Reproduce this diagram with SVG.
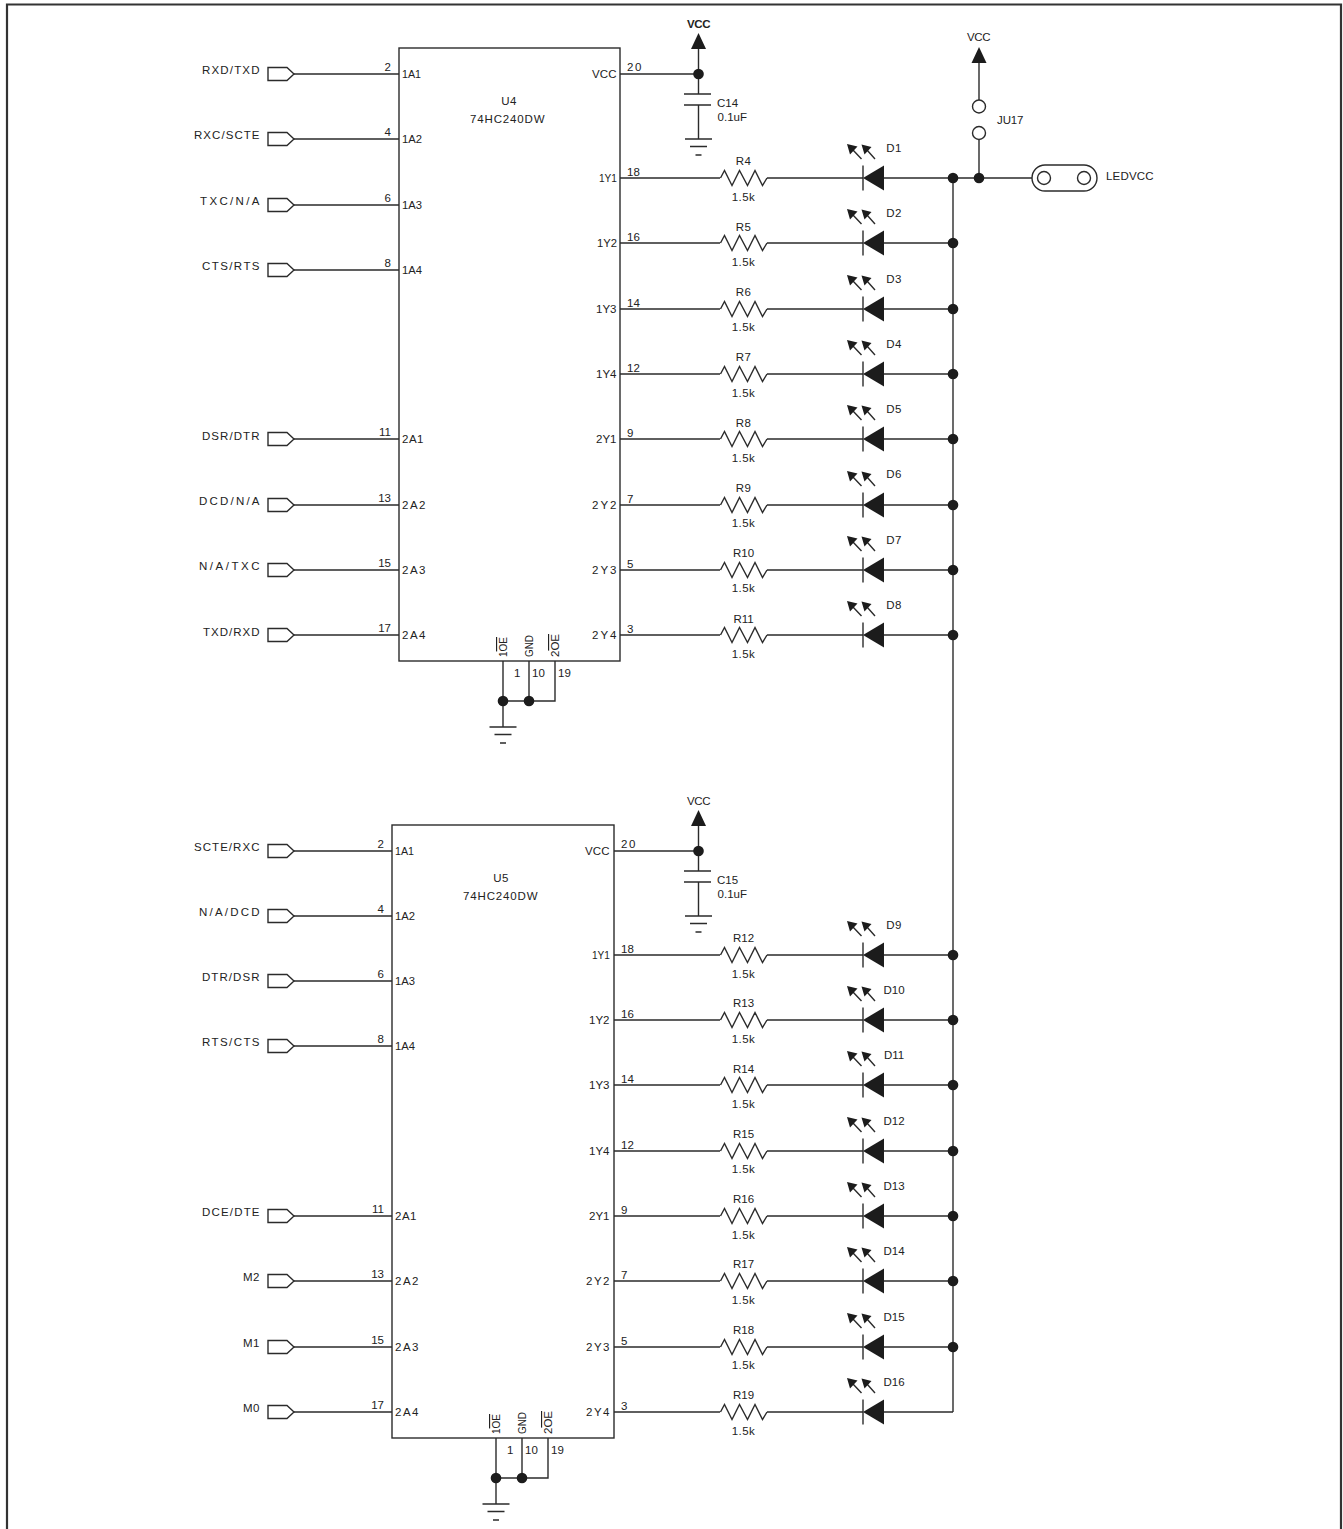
<svg xmlns="http://www.w3.org/2000/svg" width="1343" height="1529" viewBox="0 0 1343 1529">
<style>
text{font-family:"Liberation Sans",Arial,sans-serif;font-size:11.5px;letter-spacing:.5px;fill:#222}
.m{text-anchor:middle}.e{text-anchor:end}.n{letter-spacing:0}.c{letter-spacing:0}
.w{fill:none;stroke:#2b2b2b;stroke-width:1.4}
.b{fill:#1c1c1c;stroke:none}
.o{fill:#fff;stroke:#2b2b2b;stroke-width:1.4}
.f{fill:none;stroke:#2b2b2b;stroke-width:1.4}
</style>
<defs>
<path id="res" class="w" d="M0 0L4 -7.500L11.500 7.500L19 -7.500L27 7.500L34.500 -7.500L42 7.500L46.500 0"/>
<g id="led"><path class="w" d="M0 -12.500V12.500"/><path class="b" d="M0 0L21 -12.500V12.500Z"/><path class="w" d="M-1.500 -19L-10 -28M12 -19L4 -28"/><path class="b" d="M-16 -34L-5.500 -31.500L-13 -23.500ZM-1.500 -33.500L8.500 -31L1.500 -23.500Z"/></g>
<path id="port" class="f" d="M268 -6.500H287L294 0L287 6.500H268Z"/>
<circle id="dot" class="b" r="5.300"/>
<path id="gnd" class="w" d="M-13.500 0H13.500M-8.500 7.500H8.500M-3 16H3"/>
<path id="vcc" class="b" d="M0 -8L7.500 8H-7.500Z"/>
</defs>
<rect width="1343" height="1529" fill="#fff"/>
<path d="M7 1529V4.500H1341V1529" fill="none" stroke="#333" stroke-width="2.200"/>
<g id="connectors" class="w">
<path d="M294 74H399M294 139H399M294 205H399M294 270H399M294 439H399M294 505H399M294 570H399M294 635H399"/>
<path d="M620 178H720M767 178H863M884 178H1032M620 243H720M767 243H863M884 243H953M620 309H720M767 309H863M884 309H953M620 374H720M767 374H863M884 374H953M620 439H720M767 439H863M884 439H953M620 505H720M767 505H863M884 505H953M620 570H720M767 570H863M884 570H953M620 635H720M767 635H863M884 635H953"/>
<path d="M620 74H698.500M698.500 48V94M698.500 105V139M979 62V100M979 139.500V178"/>
<path d="M503 661V727M529 661V701M555 661V701H503"/>
<path d="M294 851H392M294 916H392M294 981H392M294 1046H392M294 1216H392M294 1281H392M294 1347H392M294 1412H392"/>
<path d="M614 955H720M767 955H863M884 955H953M614 1020H720M767 1020H863M884 1020H953M614 1085H720M767 1085H863M884 1085H953M614 1151H720M767 1151H863M884 1151H953M614 1216H720M767 1216H863M884 1216H953M614 1281H720M767 1281H863M884 1281H953M614 1347H720M767 1347H863M884 1347H953M614 1412H720M767 1412H863M884 1412H953"/>
<path d="M614 851H698.500M698.500 825V871M698.500 882V916"/>
<path d="M496 1438V1504M522 1438V1478M548 1438V1478H496"/>
<path d="M953 178V1412"/>
</g>
<g id="U4">
<rect class="f" x="399" y="48" width="221" height="613"/>
<text class="m" x="509" y="105">U4</text><text x="470" y="123" textLength="75">74HC240DW</text>
<text class="c" x="402" y="78" textLength="19" lengthAdjust="spacingAndGlyphs">1A1</text><text class="c" x="402" y="143" textLength="20" lengthAdjust="spacingAndGlyphs">1A2</text><text class="c" x="402" y="209" textLength="20" lengthAdjust="spacingAndGlyphs">1A3</text><text class="c" x="402" y="274" textLength="20" lengthAdjust="spacingAndGlyphs">1A4</text><text x="402" y="443" textLength="22">2A1</text><text x="402" y="509" textLength="24">2A2</text><text x="402" y="574" textLength="24">2A3</text><text x="402" y="639" textLength="24">2A4</text>
<text class="e n" x="391" y="71">2</text><text class="e n" x="391" y="136">4</text><text class="e n" x="391" y="202">6</text><text class="e n" x="391" y="267">8</text><text class="e n" x="391" y="436">11</text><text class="e n" x="391" y="502">13</text><text class="e n" x="391" y="567">15</text><text class="e n" x="391" y="632">17</text>
<text x="592" y="78" textLength="25">VCC</text><text class="c" x="599" y="182" textLength="18" lengthAdjust="spacingAndGlyphs">1Y1</text><text class="c" x="597" y="247" textLength="20" lengthAdjust="spacingAndGlyphs">1Y2</text><text x="596" y="313" textLength="21">1Y3</text><text x="596" y="378" textLength="21">1Y4</text><text x="596" y="443" textLength="21">2Y1</text><text x="592" y="509" textLength="25">2Y2</text><text x="592" y="574" textLength="25">2Y3</text><text x="592" y="639" textLength="25">2Y4</text>
<text x="627" y="71" textLength="15">20</text><text class="n" x="627" y="176">18</text><text class="n" x="627" y="241">16</text><text class="n" x="627" y="307">14</text><text class="n" x="627" y="372">12</text><text class="n" x="627" y="437">9</text><text class="n" x="627" y="503">7</text><text class="n" x="627" y="568">5</text><text class="n" x="627" y="633">3</text>
<text class="c" transform="translate(507 657) rotate(-90)" textLength="20" lengthAdjust="spacingAndGlyphs">1<tspan text-decoration="overline">OE</tspan></text>
<text class="c" transform="translate(533 657) rotate(-90)" textLength="22" lengthAdjust="spacingAndGlyphs">GND</text>
<text class="c" transform="translate(559 657) rotate(-90)" textLength="23" lengthAdjust="spacingAndGlyphs">2<tspan text-decoration="overline">OE</tspan></text>
<text class="n" x="514" y="677">1</text><text class="n" x="532" y="677">10</text><text class="n" x="558" y="677">19</text>
</g>
<g id="U5">
<rect class="f" x="392" y="825" width="222" height="613"/>
<text class="m" x="501" y="882">U5</text><text x="463" y="900" textLength="75">74HC240DW</text>
<text class="c" x="395" y="855" textLength="19" lengthAdjust="spacingAndGlyphs">1A1</text><text class="c" x="395" y="920" textLength="20" lengthAdjust="spacingAndGlyphs">1A2</text><text class="c" x="395" y="985" textLength="20" lengthAdjust="spacingAndGlyphs">1A3</text><text class="c" x="395" y="1050" textLength="20" lengthAdjust="spacingAndGlyphs">1A4</text><text x="395" y="1220" textLength="22">2A1</text><text x="395" y="1285" textLength="24">2A2</text><text x="395" y="1351" textLength="24">2A3</text><text x="395" y="1416" textLength="24">2A4</text>
<text class="e n" x="384" y="848">2</text><text class="e n" x="384" y="913">4</text><text class="e n" x="384" y="978">6</text><text class="e n" x="384" y="1043">8</text><text class="e n" x="384" y="1213">11</text><text class="e n" x="384" y="1278">13</text><text class="e n" x="384" y="1344">15</text><text class="e n" x="384" y="1409">17</text>
<text x="585" y="855" textLength="25">VCC</text><text class="c" x="592" y="959" textLength="18" lengthAdjust="spacingAndGlyphs">1Y1</text><text x="589" y="1024" textLength="21">1Y2</text><text x="589" y="1089" textLength="21">1Y3</text><text x="589" y="1155" textLength="21">1Y4</text><text x="589" y="1220" textLength="21">2Y1</text><text x="586" y="1285" textLength="24">2Y2</text><text x="586" y="1351" textLength="24">2Y3</text><text x="586" y="1416" textLength="24">2Y4</text>
<text x="621" y="848" textLength="15">20</text><text class="n" x="621" y="953">18</text><text class="n" x="621" y="1018">16</text><text class="n" x="621" y="1083">14</text><text class="n" x="621" y="1149">12</text><text class="n" x="621" y="1214">9</text><text class="n" x="621" y="1279">7</text><text class="n" x="621" y="1345">5</text><text class="n" x="621" y="1410">3</text>
<text class="c" transform="translate(500 1434) rotate(-90)" textLength="20" lengthAdjust="spacingAndGlyphs">1<tspan text-decoration="overline">OE</tspan></text>
<text class="c" transform="translate(526 1434) rotate(-90)" textLength="22" lengthAdjust="spacingAndGlyphs">GND</text>
<text class="c" transform="translate(552 1434) rotate(-90)" textLength="23" lengthAdjust="spacingAndGlyphs">2<tspan text-decoration="overline">OE</tspan></text>
<text class="n" x="507" y="1454">1</text><text class="n" x="525" y="1454">10</text><text class="n" x="551" y="1454">19</text>
</g>
<g id="P1"><use href="#port" y="74"/><text x="202" y="74" textLength="58">RXD/TXD</text></g>
<g id="P2"><use href="#port" y="139"/><text x="194" y="139" textLength="66">RXC/SCTE</text></g>
<g id="P3"><use href="#port" y="205"/><text x="200" y="205" textLength="60">TXC/N/A</text></g>
<g id="P4"><use href="#port" y="270"/><text x="202" y="270" textLength="58">CTS/RTS</text></g>
<g id="P5"><use href="#port" y="439"/><text x="202" y="440" textLength="58">DSR/DTR</text></g>
<g id="P6"><use href="#port" y="505"/><text x="199" y="505" textLength="61">DCD/N/A</text></g>
<g id="P7"><use href="#port" y="570"/><text x="199" y="570" textLength="61">N/A/TXC</text></g>
<g id="P8"><use href="#port" y="635"/><text x="203" y="636" textLength="57">TXD/RXD</text></g>
<g id="P9"><use href="#port" y="851"/><text x="194" y="851" textLength="66">SCTE/RXC</text></g>
<g id="P10"><use href="#port" y="916"/><text x="199" y="916" textLength="61">N/A/DCD</text></g>
<g id="P11"><use href="#port" y="981"/><text x="202" y="981" textLength="58">DTR/DSR</text></g>
<g id="P12"><use href="#port" y="1046"/><text x="202" y="1046" textLength="58">RTS/CTS</text></g>
<g id="P13"><use href="#port" y="1216"/><text x="202" y="1216" textLength="58">DCE/DTE</text></g>
<g id="P14"><use href="#port" y="1281"/><text class="e" x="260" y="1281">M2</text></g>
<g id="P15"><use href="#port" y="1347"/><text class="e" x="260" y="1347">M1</text></g>
<g id="P16"><use href="#port" y="1412"/><text class="e" x="260" y="1412">M0</text></g>
<g id="R4"><use href="#res" x="720.500" y="178"/><text class="m" x="743.500" y="165">R4</text><text class="m" x="743.500" y="201">1.5k</text></g>
<g id="R5"><use href="#res" x="720.500" y="243"/><text class="m" x="743.500" y="231">R5</text><text class="m" x="743.500" y="266">1.5k</text></g>
<g id="R6"><use href="#res" x="720.500" y="309"/><text class="m" x="743.500" y="296">R6</text><text class="m" x="743.500" y="331">1.5k</text></g>
<g id="R7"><use href="#res" x="720.500" y="374"/><text class="m" x="743.500" y="361">R7</text><text class="m" x="743.500" y="397">1.5k</text></g>
<g id="R8"><use href="#res" x="720.500" y="439"/><text class="m" x="743.500" y="427">R8</text><text class="m" x="743.500" y="462">1.5k</text></g>
<g id="R9"><use href="#res" x="720.500" y="505"/><text class="m" x="743.500" y="492">R9</text><text class="m" x="743.500" y="527">1.5k</text></g>
<g id="R10"><use href="#res" x="720.500" y="570"/><text class="m n" x="743.500" y="557">R10</text><text class="m" x="743.500" y="592">1.5k</text></g>
<g id="R11"><use href="#res" x="720.500" y="635"/><text class="m n" x="743.500" y="623">R11</text><text class="m" x="743.500" y="658">1.5k</text></g>
<g id="R12"><use href="#res" x="720.500" y="955"/><text class="m n" x="743.500" y="942">R12</text><text class="m" x="743.500" y="978">1.5k</text></g>
<g id="R13"><use href="#res" x="720.500" y="1020"/><text class="m n" x="743.500" y="1007">R13</text><text class="m" x="743.500" y="1043">1.5k</text></g>
<g id="R14"><use href="#res" x="720.500" y="1085"/><text class="m n" x="743.500" y="1073">R14</text><text class="m" x="743.500" y="1108">1.5k</text></g>
<g id="R15"><use href="#res" x="720.500" y="1151"/><text class="m n" x="743.500" y="1138">R15</text><text class="m" x="743.500" y="1173">1.5k</text></g>
<g id="R16"><use href="#res" x="720.500" y="1216"/><text class="m n" x="743.500" y="1203">R16</text><text class="m" x="743.500" y="1239">1.5k</text></g>
<g id="R17"><use href="#res" x="720.500" y="1281"/><text class="m n" x="743.500" y="1268">R17</text><text class="m" x="743.500" y="1304">1.5k</text></g>
<g id="R18"><use href="#res" x="720.500" y="1347"/><text class="m n" x="743.500" y="1334">R18</text><text class="m" x="743.500" y="1369">1.5k</text></g>
<g id="R19"><use href="#res" x="720.500" y="1412"/><text class="m n" x="743.500" y="1399">R19</text><text class="m" x="743.500" y="1435">1.5k</text></g>
<g id="D1"><use href="#led" x="863" y="178"/><text class="m" x="894" y="152">D1</text></g>
<g id="D2"><use href="#led" x="863" y="243"/><text class="m" x="894" y="217">D2</text></g>
<g id="D3"><use href="#led" x="863" y="309"/><text class="m" x="894" y="283">D3</text></g>
<g id="D4"><use href="#led" x="863" y="374"/><text class="m" x="894" y="348">D4</text></g>
<g id="D5"><use href="#led" x="863" y="439"/><text class="m" x="894" y="413">D5</text></g>
<g id="D6"><use href="#led" x="863" y="505"/><text class="m" x="894" y="478">D6</text></g>
<g id="D7"><use href="#led" x="863" y="570"/><text class="m" x="894" y="544">D7</text></g>
<g id="D8"><use href="#led" x="863" y="635"/><text class="m" x="894" y="609">D8</text></g>
<g id="D9"><use href="#led" x="863" y="955"/><text class="m" x="894" y="929">D9</text></g>
<g id="D10"><use href="#led" x="863" y="1020"/><text class="m n" x="894" y="994">D10</text></g>
<g id="D11"><use href="#led" x="863" y="1085"/><text class="m n" x="894" y="1059">D11</text></g>
<g id="D12"><use href="#led" x="863" y="1151"/><text class="m n" x="894" y="1125">D12</text></g>
<g id="D13"><use href="#led" x="863" y="1216"/><text class="m n" x="894" y="1190">D13</text></g>
<g id="D14"><use href="#led" x="863" y="1281"/><text class="m n" x="894" y="1255">D14</text></g>
<g id="D15"><use href="#led" x="863" y="1347"/><text class="m n" x="894" y="1321">D15</text></g>
<g id="D16"><use href="#led" x="863" y="1412"/><text class="m n" x="894" y="1386">D16</text></g>
<g id="C14"><path class="w" d="M684 94H711M684 105H711"/><use href="#gnd" x="698.500" y="139"/><text class="n" x="717" y="107">C14</text><text x="717.500" y="121" textLength="30">0.1uF</text></g>
<g id="C15"><path class="w" d="M684 871H711M684 882H711"/><use href="#gnd" x="698.500" y="916"/><text class="n" x="717" y="884">C15</text><text x="717.500" y="898" textLength="30">0.1uF</text></g>
<g id="VCC1"><use href="#vcc" x="698.500" y="41"/><text x="687" y="28" textLength="24" style="font-weight:bold">VCC</text></g>
<g id="VCC2"><use href="#vcc" x="698.500" y="818"/><text x="687" y="805" textLength="24">VCC</text></g>
<g id="VCC3"><use href="#vcc" x="979" y="55"/><text x="967" y="41" textLength="24">VCC</text></g>
<g id="JU17"><circle class="o" cx="979" cy="106.500" r="6.500"/><circle class="o" cx="979" cy="133" r="6.500"/><text x="997" y="124" textLength="27">JU17</text></g>
<g id="LEDVCC"><rect class="f" x="1032" y="165" width="65" height="26" rx="13"/><circle class="o" cx="1044" cy="178" r="6.500"/><circle class="o" cx="1084" cy="178" r="6.500"/><text x="1106" y="180" textLength="48">LEDVCC</text></g>
<g id="GND1"><use href="#gnd" x="503" y="727"/></g>
<g id="GND2"><use href="#gnd" x="496" y="1504"/></g>
<g id="junctions">
<use href="#dot" x="698.500" y="74"/><use href="#dot" x="698.500" y="851"/><use href="#dot" x="979" y="178"/>
<use href="#dot" x="503" y="701"/><use href="#dot" x="529" y="701"/><use href="#dot" x="496" y="1478"/><use href="#dot" x="522" y="1478"/>
<use href="#dot" x="953" y="178"/><use href="#dot" x="953" y="243"/><use href="#dot" x="953" y="309"/><use href="#dot" x="953" y="374"/><use href="#dot" x="953" y="439"/><use href="#dot" x="953" y="505"/><use href="#dot" x="953" y="570"/><use href="#dot" x="953" y="635"/>
<use href="#dot" x="953" y="955"/><use href="#dot" x="953" y="1020"/><use href="#dot" x="953" y="1085"/><use href="#dot" x="953" y="1151"/><use href="#dot" x="953" y="1216"/><use href="#dot" x="953" y="1281"/><use href="#dot" x="953" y="1347"/>
</g>
</svg>
